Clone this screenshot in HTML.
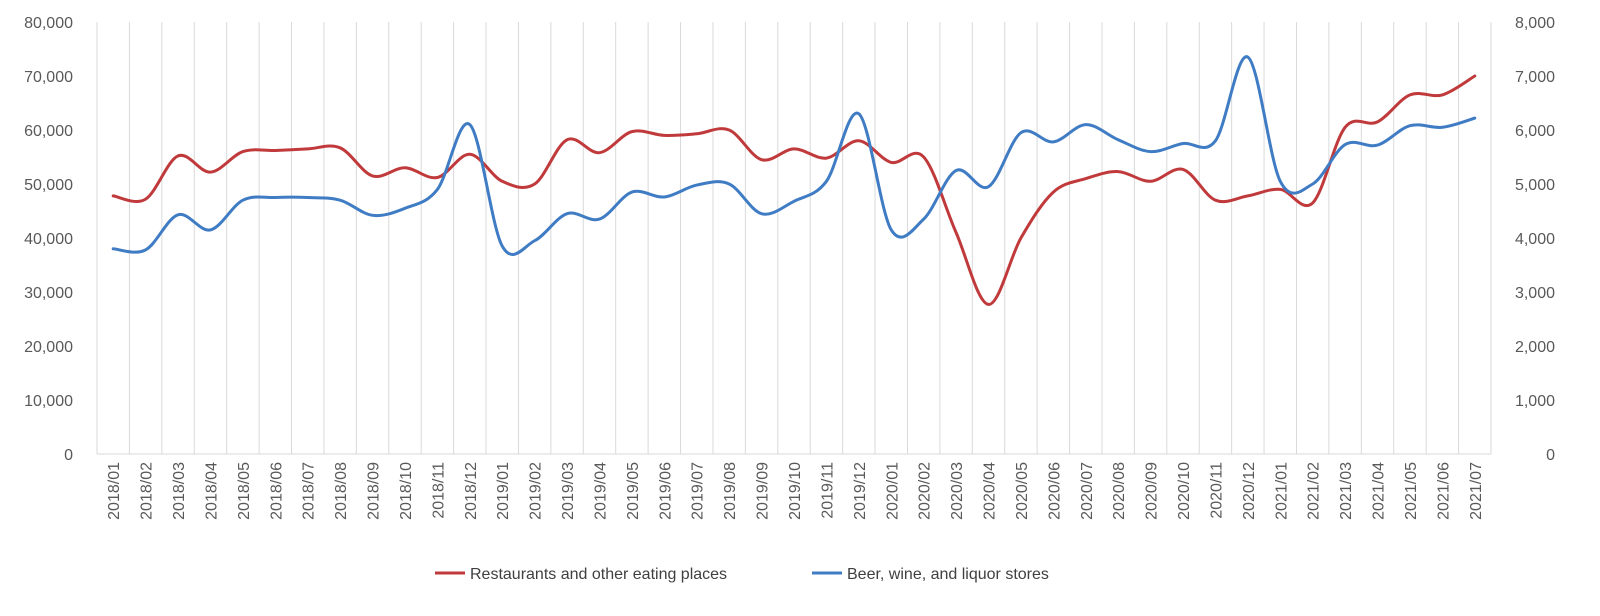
<!DOCTYPE html>
<html><head><meta charset="utf-8"><style>
body{margin:0;background:#fff;}
svg{display:block;font-family:"Liberation Sans",sans-serif;}
</style></head><body>
<svg id="chart" width="1600" height="616" viewBox="0 0 1600 616" xmlns="http://www.w3.org/2000/svg">
<g id="grid"></g>
<g id="yl"></g>
<g id="yr"></g>
<g id="xa"></g>
<g id="series"></g>
<g>
 <line x1="435" y1="573" x2="465" y2="573" stroke="#C0393B" stroke-width="3"/>
 <text x="470" y="579" font-size="16" fill="#404040">Restaurants and other eating places</text>
 <line x1="812" y1="573" x2="842" y2="573" stroke="#3F7CC4" stroke-width="3"/>
 <text x="847" y="579" font-size="16" fill="#404040">Beer, wine, and liquor stores</text>
</g>
</svg>
<script>
const categories=[];
for(let y=2018;y<=2021;y++)for(let m=1;m<=12;m++){if(y===2021&&m>7)break;categories.push(y+"/"+String(m).padStart(2,"0"));}
const restaurants=[47800,47200,55200,52200,56000,56200,56500,56700,51500,53000,51200,55500,
50500,50000,58200,55800,59700,59000,59300,60000,54500,56500,54800,58000,
54000,55000,41000,27700,40000,48500,51000,52300,50500,52700,47000,47800,
49000,46500,60500,61500,66500,66500,70000];
const liquor=[3800,3780,4430,4150,4700,4750,4750,4700,4420,4550,4900,6100,
3850,3950,4450,4350,4850,4760,4980,5000,4450,4680,5050,6300,
4150,4350,5250,4950,5950,5780,6100,5820,5600,5750,5800,7350,
5050,5000,5730,5720,6080,6050,6220];
const leftTicks=[0,10000,20000,30000,40000,50000,60000,70000,80000];
const rightTicks=[0,1000,2000,3000,4000,5000,6000,7000,8000];
const NS="http://www.w3.org/2000/svg";
const L=97,R=1491,T=22,B=454;
const step=(R-L)/categories.length;
const xs=i=>L+step*(i+0.5);
const yL=v=>B-(v/80000)*(B-T);
const yR=v=>B-(v/8000)*(B-T);
function mk(tag,attrs,parent){const e=document.createElementNS(NS,tag);for(const k in attrs)e.setAttribute(k,attrs[k]);parent.appendChild(e);return e;}
const grid=document.getElementById('grid'),yl=document.getElementById('yl'),yr=document.getElementById('yr'),xa=document.getElementById('xa'),ser=document.getElementById('series');
for(let i=0;i<=categories.length;i++){
 const g=mk('line',{x1:L+step*i,x2:L+step*i,y1:T,y2:B,stroke:'#D9D9D9','stroke-width':1},grid);
 
 
}
const base=mk('line',{x1:L,x2:R,y1:B,y2:B,stroke:'#D9D9D9','stroke-width':1},grid);


leftTicks.forEach(v=>{
 const t=mk('text',{x:73,y:yL(v)+6,'text-anchor':'end','font-size':16,fill:'#595959'},yl);
 t.textContent=v.toLocaleString('en-US');
 
 
});
rightTicks.forEach(v=>{
 const t=mk('text',{x:1555,y:yR(v)+6,'text-anchor':'end','font-size':16,fill:'#595959'},yr);
 t.textContent=v.toLocaleString('en-US');
 
 
});
categories.forEach((c,i)=>{
 const x=xs(i)+6,y=462;
 const t=mk('text',{x:x,y:y,'text-anchor':'end','font-size':16,fill:'#595959',transform:`rotate(-90 ${x} ${y})`},xa);
 t.textContent=c;
 
 
});
function smooth(pts){
 let d=`M${pts[0][0]},${pts[0][1]}`;
 for(let i=0;i<pts.length-1;i++){
  const p0=pts[i-1]||pts[i],p1=pts[i],p2=pts[i+1],p3=pts[i+2]||p2;
  const c1=[p1[0]+(p2[0]-p0[0])/6,p1[1]+(p2[1]-p0[1])/6];
  const c2=[p2[0]-(p3[0]-p1[0])/6,p2[1]-(p3[1]-p1[1])/6];
  d+=` C${c1[0]},${c1[1]} ${c2[0]},${c2[1]} ${p2[0]},${p2[1]}`;
 }
 return d;
}
const pr=mk('path',{d:smooth(restaurants.map((v,i)=>[xs(i),yL(v)])),fill:'none',stroke:'#C0393B','stroke-width':3,'stroke-linejoin':'round','stroke-linecap':'round'},ser);


const pb=mk('path',{d:smooth(liquor.map((v,i)=>[xs(i),yR(v)])),fill:'none',stroke:'#3F7CC4','stroke-width':3,'stroke-linejoin':'round','stroke-linecap':'round'},ser);


</script>
</body></html>
